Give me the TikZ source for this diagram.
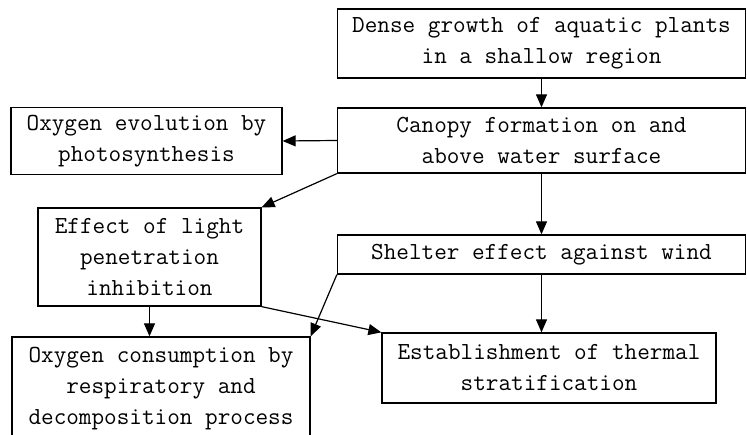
\documentclass[tikz,border=0pt]{standalone}
\usetikzlibrary{arrows.meta}
\tikzset{
  bx/.style={rectangle,draw,line width=1.3pt,inner sep=0pt,align=center,font=\ttfamily\fontsize{24.5}{31}\selectfont},
  ar/.style={-{Triangle[length=13pt,width=11pt]},line width=1.2pt}
}
\begin{document}
\begin{tikzpicture}[x=1pt,y=-1pt]
\useasboundingbox (0,0) rectangle (747,435);
  \node[bx,minimum width=408pt,minimum height=69pt](dense) at (541.5,43.5){Dense growth of aquatic plants\\in a shallow region};
  \node[bx,minimum width=408pt,minimum height=65pt](canopy) at (541.5,140.5){Canopy formation on and\\above water surface};
  \node[bx,minimum width=271pt,minimum height=67pt](evol) at (146.5,141){Oxygen evolution by\\photosynthesis};
  \node[bx,minimum width=223pt,minimum height=98pt](light) at (149.5,257){Effect of light\\penetration\\inhibition};
  \node[bx,minimum width=408pt,minimum height=39pt](shelter) at (541.5,254.5){Shelter effect against wind};
  \node[bx,minimum width=334pt,minimum height=70pt](estab) at (549,368){Establishment of thermal\\stratification};
  \node[bx,minimum width=298pt,minimum height=103pt](consum) at (161,388.5){Oxygen consumption by\\respiratory and\\decomposition process};
  % arrows
  \draw[ar] (dense.south) -- (canopy.north);
  \draw[ar] (canopy.west) -- (evol.east);
  \draw[ar] (canopy.south west) -- (light.north east);
  \draw[ar] (canopy.south) -- (shelter.north);
  \draw[ar] (shelter.south) -- (shelter.south |- estab.north);
  \draw[ar] (shelter.south west) -- (consum.north east);
  \draw[ar] (light.south east) -- (estab.north west);
  \draw[ar] (light.south) -- (light.south |- consum.north);
\end{tikzpicture}
\end{document}
